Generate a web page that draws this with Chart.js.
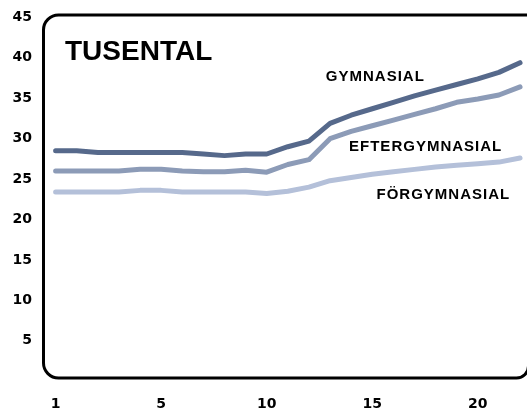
<!DOCTYPE html>
<html lang="sv">
<head>
<meta charset="utf-8">
<title>Tusental</title>
<script src="https://cdn.jsdelivr.net/npm/chart.js@4"></script>
<style>
  html, body { margin: 0; padding: 0; background: #fff; }
  #wrap { width: 527px; height: 412px; }
</style>
</head>
<body>
<div id="wrap"><canvas id="chart"></canvas></div>
<script>
// x positions of the points, and where the axis labels go
var xValues = [0, 1, 2, 3, 4, 5, 6, 7, 8, 9, 10, 11, 12, 13, 14, 15, 16, 17, 18, 19, 20, 21, 22];
var xTickValues = [0, 5, 10, 15, 20];
var xTickLabels = ['1', '5', '10', '15', '20'];
var yTickValues = [5, 10, 15, 20, 25, 30, 35, 40, 45];

var seriesNames = ['GYMNASIAL', 'EFTERGYMNASIAL', 'FÖRGYMNASIAL'];
var gymnasial = [28.5, 28.5, 28.3, 28.3, 28.3, 28.3, 28.3, 28.1, 27.9, 28.1, 28.1, 29.0, 29.7, 31.9, 32.9, 33.7, 34.5, 35.3, 36.0, 36.7, 37.4, 38.2, 39.4];
var eftergymnasial = [26.0, 26.0, 26.0, 26.0, 26.2, 26.2, 26.0, 25.9, 25.9, 26.1, 25.85, 26.8, 27.4, 30.0, 30.9, 31.6, 32.3, 33.0, 33.7, 34.5, 34.9, 35.4, 36.4];
var forgymnasial = [23.4, 23.4, 23.4, 23.4, 23.6, 23.6, 23.4, 23.4, 23.4, 23.4, 23.2, 23.5, 24.0, 24.8, 25.2, 25.6, 25.9, 26.2, 26.5, 26.7, 26.9, 27.1, 27.6];

var colors = ['#56698b', '#8c9bb7', '#b4c0d9'];

function toPoints(values) {
    return values.map(function (v, i) { return {x: xValues[i], y: v}; });
}

// rounded black frame round the plot area
var framePlugin = {
    id: 'frame',
    beforeDatasetsDraw: function (chart) {
        var ca = chart.chartArea;
        var ctx = chart.ctx;
        ctx.save();
        ctx.strokeStyle = '#000';
        ctx.lineWidth = 3;
        ctx.beginPath();
        ctx.roundRect(ca.left - 0.5, ca.top, ca.right - ca.left + 2, ca.bottom - ca.top - 1, [15, 0, 12, 15]);
        ctx.stroke();
        ctx.restore();
    }
};

// title and the names next to each line
var labelPlugin = {
    id: 'seriesLabels',
    afterDatasetsDraw: function (chart) {
        var ctx = chart.ctx;
        var xs = chart.scales.x, ys = chart.scales.y;
        ctx.save();
        ctx.fillStyle = '#000';
        ctx.textAlign = 'left';
        ctx.textBaseline = 'alphabetic';
        ctx.font = 'bold 28px "Liberation Sans"';
        ctx.fillText('TUSENTAL', 65, 60);

        ctx.font = 'bold 15px "Liberation Sans"';
        if ('letterSpacing' in ctx) ctx.letterSpacing = '1px';
        var spots = [[12.8, 37.1], [13.9, 28.5], [15.2, 22.5]];
        for (var i = 0; i < seriesNames.length; i++) {
            ctx.fillText(seriesNames[i], xs.getPixelForValue(spots[i][0]), ys.getPixelForValue(spots[i][1]));
        }
        ctx.restore();
    }
};

var tickFont = {family: '"DejaVu Sans"', size: 14, weight: 'bold'};

new Chart(document.getElementById('chart'), {
    type: 'line',
    data: {
        datasets: [
            {label: seriesNames[0], data: toPoints(gymnasial), borderColor: colors[0]},
            {label: seriesNames[1], data: toPoints(eftergymnasial), borderColor: colors[1]},
            {label: seriesNames[2], data: toPoints(forgymnasial), borderColor: colors[2]}
        ]
    },
    options: {
        responsive: true,
        maintainAspectRatio: false,
        animation: false,
        layout: {padding: {top: 15, right: 0, bottom: 0, left: 0}},
        elements: {
            line: {borderWidth: 5, tension: 0, borderCapStyle: 'round', borderJoinStyle: 'round', fill: false},
            point: {radius: 0, hoverRadius: 0}
        },
        plugins: {legend: {display: false}, tooltip: {enabled: false}},
        scales: {
            x: {
                type: 'linear',
                min: -0.55,
                max: 22.33,
                grid: {display: false, drawTicks: false},
                border: {display: false},
                afterBuildTicks: function (axis) {
                    axis.ticks = xTickValues.map(function (v) { return {value: v}; });
                },
                afterFit: function (axis) {
                    axis.height = 33;
                    axis.paddingLeft = 0;
                    axis.paddingRight = 0;
                },
                ticks: {
                    color: '#000',
                    font: tickFont,
                    padding: 17,
                    maxRotation: 0,
                    callback: function (v) {
                        var i = xTickValues.indexOf(v);
                        return i < 0 ? '' : xTickLabels[i];
                    }
                }
            },
            y: {
                min: 0.26,
                max: 45.3,
                grid: {display: false, drawTicks: false},
                border: {display: false},
                afterBuildTicks: function (axis) {
                    axis.ticks = yTickValues.map(function (v) { return {value: v}; });
                },
                afterFit: function (axis) {
                    axis.width = 44;
                    axis.paddingTop = 0;
                    axis.paddingBottom = 0;
                },
                ticks: {color: '#000', font: tickFont, padding: 12}
            }
        }
    },
    plugins: [framePlugin, labelPlugin]
});
</script>
</body>
</html>
